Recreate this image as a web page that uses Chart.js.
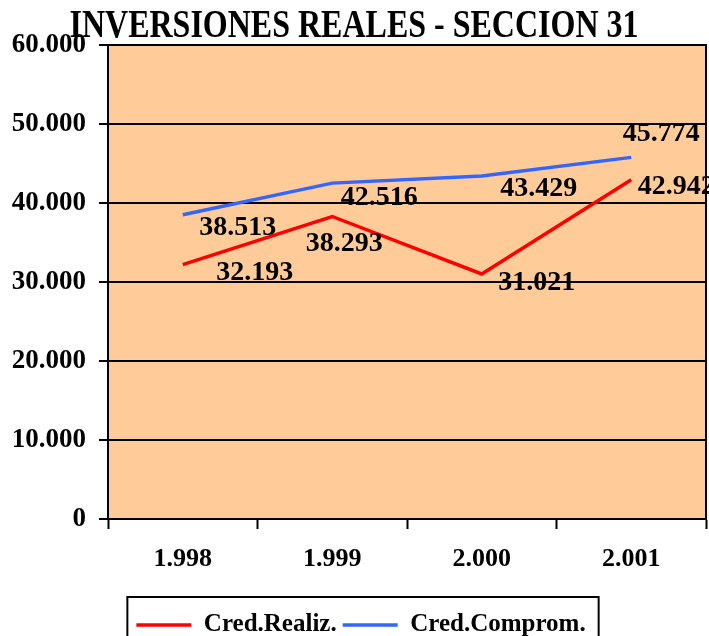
<!DOCTYPE html>
<html lang="es">
<head>
<meta charset="UTF-8">
<title>Inversiones Reales - Seccion 31</title>
<script src="https://cdn.jsdelivr.net/npm/chart.js"></script>
<style>
  html, body { margin: 0; padding: 0; background: #fff; }
  #caja { width: 709px; height: 636px; }
</style>
</head>
<body>
<div id="caja"><canvas id="grafico" width="709" height="636"></canvas></div>
<script>
// datos
var anios = ["1.998", "1.999", "2.000", "2.001"];
var credRealiz = [32193, 38293, 31021, 42942];
var credComprom = [38513, 42516, 43429, 45774];
var ticksY = [0, 10000, 20000, 30000, 40000, 50000, 60000];

// desplazamiento de las etiquetas de valor respecto al punto (estilo)
var despRealiz = [[72, 8], [12, 27], [55, 9], [45, 7]];
var despComprom = [[55, 13], [47, 15], [57, 13], [30, -24]];

var fuente = "'Liberation Serif', 'Times New Roman', serif";

// 60000 -> "60.000"
function formato(v) {
    return String(v).replace(/\B(?=(\d{3})+(?!\d))/g, ".");
}

// fondo naranja, marco del area de trazado, marco de la leyenda y titulo
var pluginFondo = {
    id: 'fondo',
    afterLayout: function (chart) {
        // la leyenda del original esta algo corrida a la derecha
        chart.legend.left += 8;
        chart.legend.right += 8;
    },
    beforeDraw: function (chart) {
        var a = chart.chartArea, ctx = chart.ctx;
        ctx.save();
        ctx.fillStyle = '#FFCC99';
        ctx.fillRect(a.left, a.top, a.right - a.left, a.bottom - a.top);
        ctx.restore();
    },
    afterDraw: function (chart) {
        var a = chart.chartArea, ctx = chart.ctx;
        ctx.save();
        ctx.strokeStyle = '#000';
        ctx.lineWidth = 2;
        ctx.strokeRect(a.left, a.top, a.right - a.left, a.bottom - a.top);
        // marco de la leyenda
        var cajas = chart.legend.legendHitBoxes;
        if (cajas && cajas.length) {
            var izq = cajas[0].left - 9;
            var der = cajas[cajas.length - 1].left + cajas[cajas.length - 1].width + 13;
            var arr = cajas[0].top - 15.5;
            ctx.strokeRect(izq, arr, der - izq, 80);
        }
        // titulo (algo estrechado, como en el original)
        ctx.font = "bold 40px " + fuente;
        ctx.fillStyle = '#000';
        ctx.textAlign = 'center';
        ctx.textBaseline = 'alphabetic';
        ctx.translate(354, 37);
        ctx.scale(0.8, 1);
        ctx.fillText("INVERSIONES REALES - SECCION 31", 0, 0);
        ctx.restore();
    }
};

// etiquetas de valor en cada punto
var pluginEtiquetas = {
    id: 'etiquetas',
    afterDatasetsDraw: function (chart) {
        var ctx = chart.ctx;
        var desps = [despRealiz, despComprom];
        ctx.save();
        ctx.font = "bold 28px " + fuente;
        ctx.fillStyle = '#000';
        ctx.textAlign = 'center';
        ctx.textBaseline = 'middle';
        chart.data.datasets.forEach(function (ds, i) {
            var meta = chart.getDatasetMeta(i);
            meta.data.forEach(function (pt, j) {
                ctx.fillText(formato(ds.data[j]), pt.x + desps[i][j][0], pt.y + desps[i][j][1]);
            });
        });
        ctx.restore();
    }
};

var ctx = document.getElementById("grafico").getContext("2d");
var config = {
    type: 'line',
    data: {
        labels: anios,
        datasets: [
            {
                label: 'Cred.Realiz.',
                data: credRealiz,
                borderColor: '#FF0000',
                backgroundColor: '#FF0000',
                borderWidth: 3.5,
                pointRadius: 0,
                tension: 0
            },
            {
                label: 'Cred.Comprom.',
                data: credComprom,
                borderColor: '#3366FF',
                backgroundColor: '#3366FF',
                borderWidth: 3.5,
                pointRadius: 0,
                tension: 0
            }
        ]
    },
    options: {
        responsive: false,
        animation: false,
        layout: { padding: { top: 45, right: 3, left: 0, bottom: -11.5 } },
        plugins: {
            title: { display: false },
            tooltip: { enabled: false },
            legend: {
                position: 'bottom',
                labels: {
                    usePointStyle: true,
                    pointStyle: 'line',
                    pointStyleWidth: 55,
                    boxHeight: 25,
                    color: '#000',
                    padding: 6,
                    font: { family: fuente, size: 25, weight: 'bold' }
                }
            }
        },
        scales: {
            x: {
                offset: true,
                afterFit: function (escala) { escala.height = 87.5; },
                grid: {
                    offset: true,
                    drawOnChartArea: false,
                    drawTicks: true,
                    tickLength: 10,
                    tickWidth: 2,
                    tickColor: '#000'
                },
                border: { color: '#000', width: 2 },
                ticks: {
                    color: '#000',
                    padding: 15,
                    maxRotation: 0,
                    font: { family: fuente, size: 26, weight: 'bold' }
                }
            },
            y: {
                min: 0,
                max: 60000,
                afterFit: function (escala) { escala.width = 108; },
                afterBuildTicks: function (escala) {
                    escala.ticks = ticksY.map(function (v) { return { value: v }; });
                },
                grid: {
                    color: '#000',
                    lineWidth: 2,
                    tickLength: 9,
                    tickWidth: 2
                },
                border: { color: '#000', width: 2 },
                ticks: {
                    color: '#000',
                    padding: 13,
                    font: { family: fuente, size: 27, weight: 'bold' },
                    callback: function (v) { return formato(v); }
                }
            }
        }
    },
    plugins: [pluginFondo, pluginEtiquetas]
};
var grafico = new Chart(ctx, config);
</script>
</body>
</html>
